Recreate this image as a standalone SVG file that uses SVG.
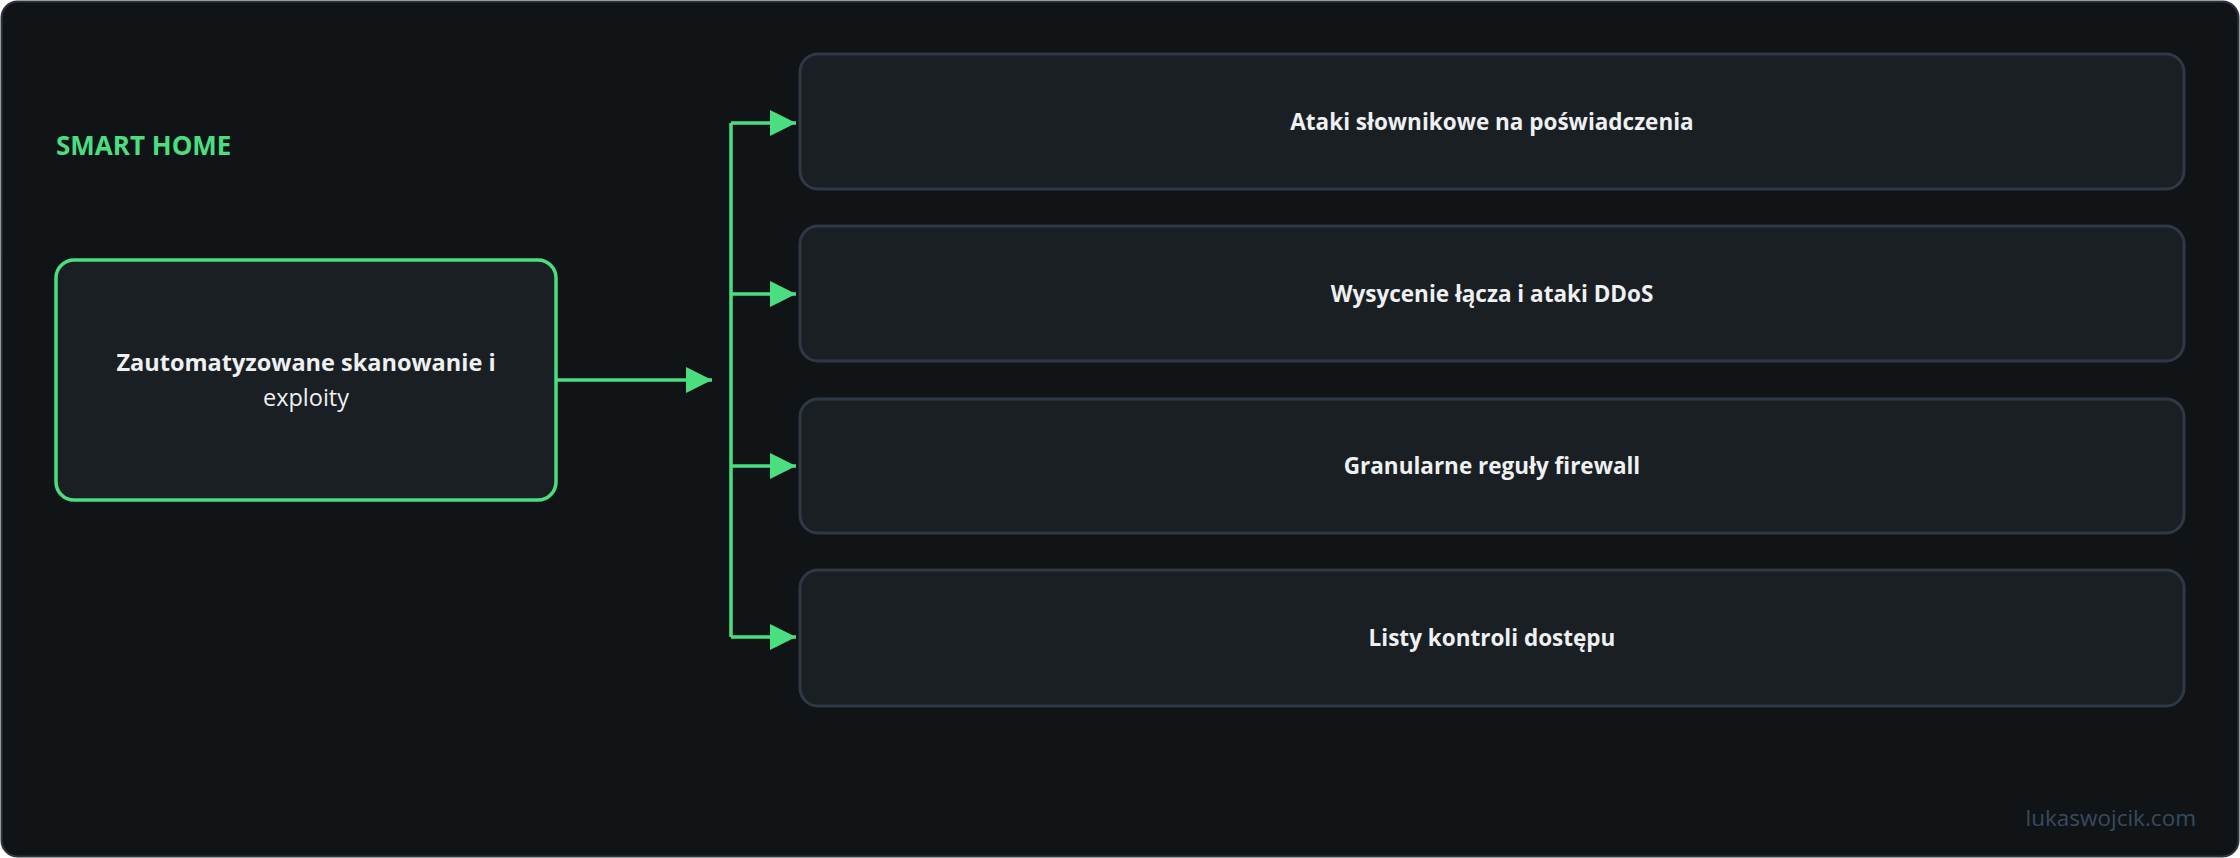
<svg xmlns="http://www.w3.org/2000/svg" width="2240" height="858" viewBox="0 0 2240 858">
<defs>
<style>
.box{fill:#1a1f23;stroke:#2f3845;stroke-width:3}
.t{font-family:"Open Sans","Liberation Sans",sans-serif;font-size:22.5px;font-weight:700;fill:#eef0f2;text-anchor:middle}
.n{font-weight:400}
.c{stroke:#4ade80;stroke-width:3.5;fill:none}
</style>
<marker id="a" viewBox="0 0 10 10" refX="10" refY="5" markerWidth="7.5" markerHeight="7.5" orient="auto"><path d="M0,0 L10,5 L0,10 z" fill="#4ade80"/></marker>
</defs>
<rect x="1.5" y="1.5" width="2237" height="855" rx="16" fill="#101417" stroke="#2f3640" stroke-width="2"/>
<text x="56" y="155" font-family="Open Sans, Liberation Sans, sans-serif" font-size="26" font-weight="700" fill="#4ade80">SMART HOME</text>
<g id="source">
<rect x="56" y="260" width="500" height="240" rx="18" fill="#1a1f23" stroke="#4ade80" stroke-width="3.5"/>
<text class="t" x="306" y="371" style="font-size:23.5px">Zautomatyzowane skanowanie i</text>
<text class="t n" x="306" y="406" style="font-size:23.5px">exploity</text>
</g>
<g id="connectors">
<path class="c" d="M556,380 H712" marker-end="url(#a)"/>
<path class="c" d="M731,123 V637"/>
<path class="c" d="M731,123 H796" marker-end="url(#a)"/>
<path class="c" d="M731,294 H796" marker-end="url(#a)"/>
<path class="c" d="M731,466 H796" marker-end="url(#a)"/>
<path class="c" d="M731,637 H796" marker-end="url(#a)"/>
</g>
<g id="n1"><rect class="box" x="800" y="54" width="1384" height="135" rx="18"/><text class="t" x="1492" y="130">Ataki słownikowe na poświadczenia</text></g>
<g id="n2"><rect class="box" x="800" y="226" width="1384" height="135" rx="18"/><text class="t" x="1492" y="302">Wysycenie łącza i ataki DDoS</text></g>
<g id="n3"><rect class="box" x="800" y="399" width="1384" height="134" rx="18"/><text class="t" x="1492" y="474">Granularne reguły firewall</text></g>
<g id="n4"><rect class="box" x="800" y="570" width="1384" height="136" rx="18"/><text class="t" x="1492" y="646">Listy kontroli dostępu</text></g>
<text x="2196" y="826" font-family="Open Sans, Liberation Sans, sans-serif" font-size="22.5" fill="#3a4a5e" text-anchor="end">lukaswojcik.com</text>
</svg>
